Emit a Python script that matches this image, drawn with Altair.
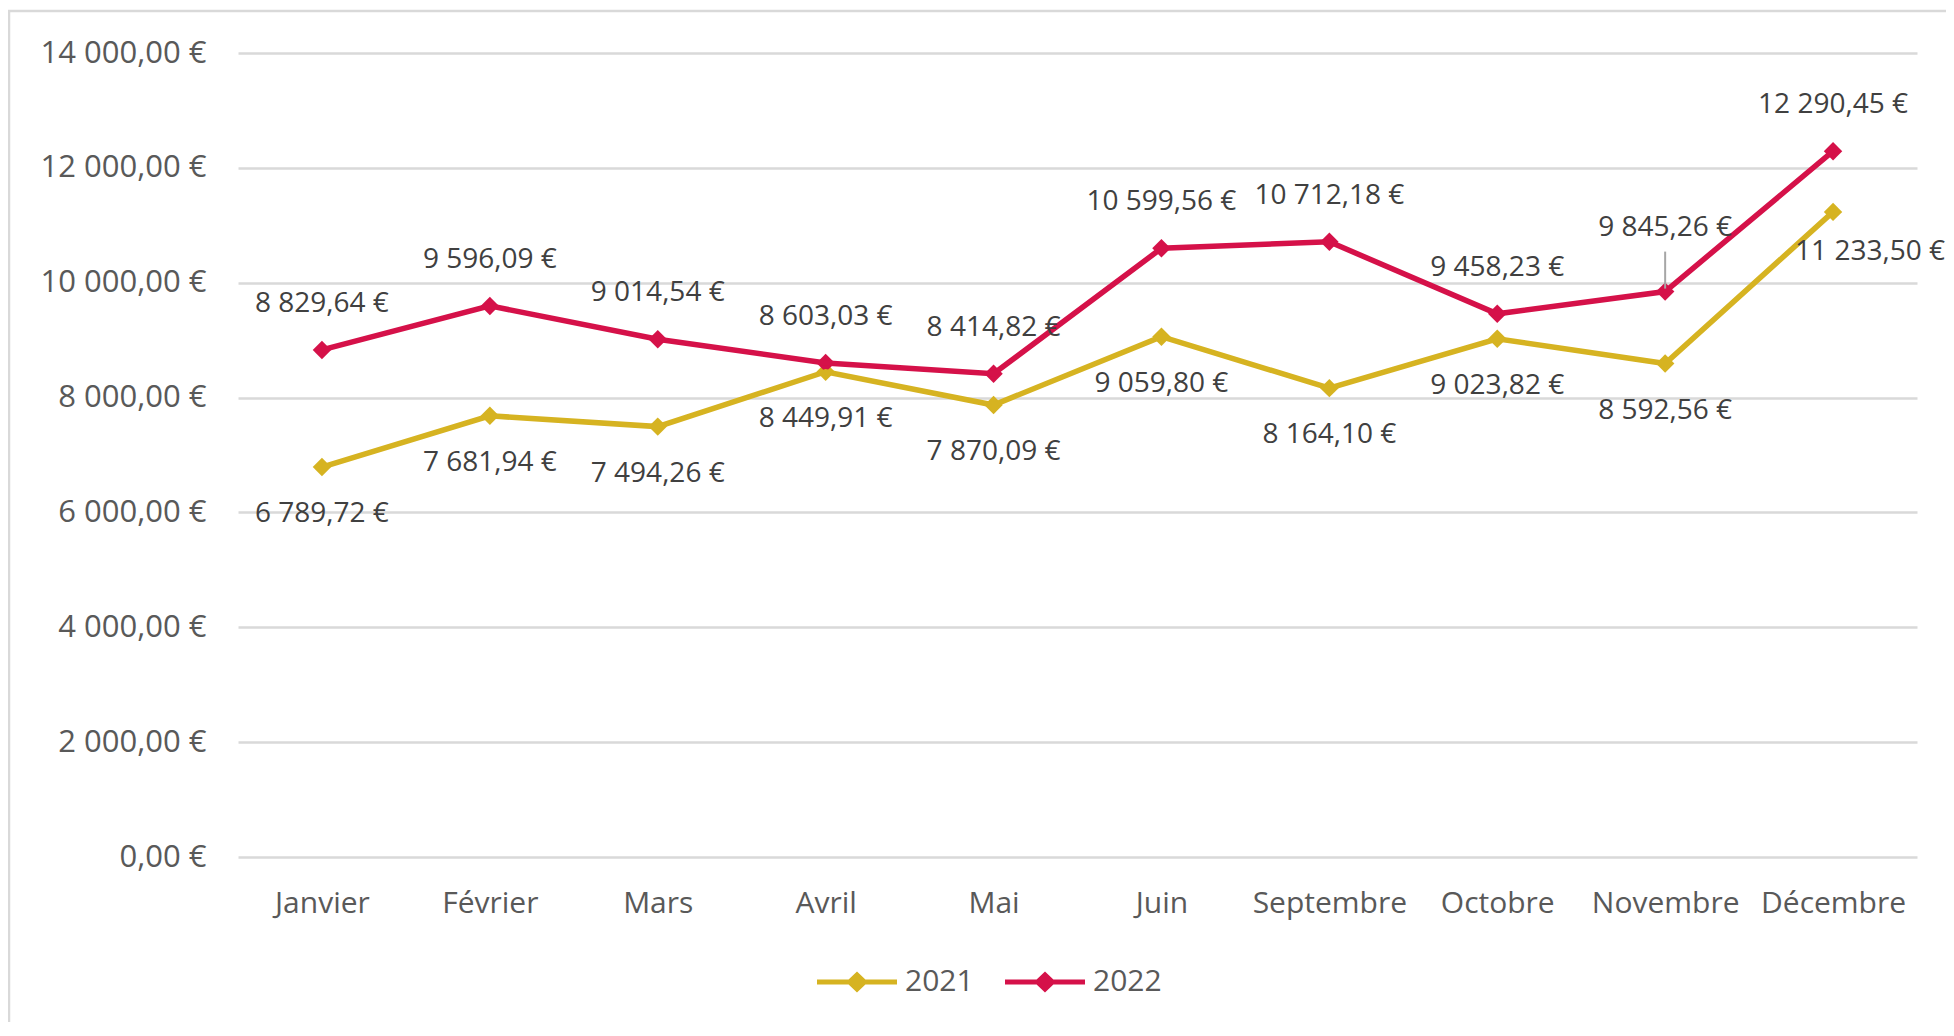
import altair as alt
import pandas as pd

months = ["Janvier", "Février", "Mars", "Avril", "Mai", "Juin",
          "Septembre", "Octobre", "Novembre", "Décembre"]
values_2021 = [6789.72, 7681.94, 7494.26, 8449.91, 7870.09, 9059.80,
               8164.10, 9023.82, 8592.56, 11233.50]
values_2022 = [8829.64, 9596.09, 9014.54, 8603.03, 8414.82, 10599.56,
               10712.18, 9458.23, 9845.26, 12290.45]
years = ["2021", "2022"]
y_ticks = [0, 2000, 4000, 6000, 8000, 10000, 12000, 14000]

colors = ["#D6B321", "#D51149"]


def fr(v):
    s = f"{v:,.2f}".replace(",", "#").replace(".", ",").replace("#", " ")
    return s + " €"


rows = []
for yr, vals in zip(years, [values_2021, values_2022]):
    for m, v in zip(months, vals):
        rows.append({"month": m, "value": v, "year": yr, "label": fr(v)})
df = pd.DataFrame(rows)

FONT = "Open Sans"

x_enc = alt.X("month:N", sort=months,
              scale=alt.Scale(type="point", padding=0.5),
              axis=alt.Axis(title=None, domain=False, ticks=False, grid=False,
                            labelFontSize=30, labelColor="#595959",
                            labelFont=FONT, labelPadding=31, labelAngle=0))
y_enc = alt.Y("value:Q",
              scale=alt.Scale(domain=[0, 14000], nice=False),
              axis=alt.Axis(title=None, domain=False, ticks=False,
                            values=y_ticks, grid=True, gridColor="#D9D9D9",
                            gridWidth=2.5, labelFontSize=31,
                            labelColor="#595959", labelFont=FONT,
                            labelPadding=32,
                            labelExpr="replace(replace(replace(format(datum.value, ',.2f'), ',', '#'), '.', ','), '#', ' ') + ' €'"))
color_scale = alt.Scale(domain=years, range=colors)

legend_path = ("M-1,-0.06L-0.21,-0.06L0,-0.26L0.21,-0.06L1,-0.06L1,0.06"
               "L0.21,0.06L0,0.26L-0.21,0.06L-1,0.06Z")
legend = alt.Legend(title=None, orient="none", direction="horizontal",
                    legendX=579, legendY=889,
                    symbolType=legend_path, symbolSize=6400,
                    symbolStrokeWidth=0, symbolFillColor="#D6B321",
                    labelFontSize=30, labelFont=FONT,
                    labelColor="#595959", labelOffset=8,
                    columnPadding=31, padding=0)
color_enc = alt.Color("year:N", scale=color_scale, legend=legend)

base = alt.Chart(df)

frame = alt.Chart(alt.Data(values=[{}])).mark_rect(
    fill=None, stroke="#D9D9D9", strokeWidth=2.5
).encode(x=alt.value(-229), x2=alt.value(1800),
         y=alt.value(-42), y2=alt.value(1000))

points = base.mark_point(shape="diamond", filled=True, size=340, opacity=1).encode(
    x=x_enc, y=y_enc, color=color_enc)

lines = base.mark_line(strokeWidth=5.5).encode(
    x=x_enc, y=y_enc, color=color_enc)

txt_kw = dict(fontSize=28, font=FONT, color="#404040", baseline="middle",
              align="center")

lab22 = base.transform_filter(
    (alt.datum.year == "2022") & (alt.datum.month != "Novembre")
).mark_text(dy=-46, **txt_kw).encode(x=x_enc, y=y_enc, text="label:N")

lab22_nov = base.transform_filter(
    (alt.datum.year == "2022") & (alt.datum.month == "Novembre")
).mark_text(dy=-64, **txt_kw).encode(x=x_enc, y=y_enc, text="label:N")

leader = base.transform_filter(
    (alt.datum.year == "2022") & (alt.datum.month == "Novembre")
).mark_rule(color="#A6A6A6", strokeWidth=2, yOffset=-40, y2Offset=-3).encode(
    x=x_enc, y=y_enc, y2="value:Q")

lab21 = base.transform_filter(
    (alt.datum.year == "2021") & (alt.datum.month != "Décembre")
).mark_text(dy=47, **txt_kw).encode(x=x_enc, y=y_enc, text="label:N")

lab21_dec = base.transform_filter(
    (alt.datum.year == "2021") & (alt.datum.month == "Décembre")
).mark_text(dx=37, dy=40, **txt_kw).encode(x=x_enc, y=y_enc, text="label:N")

chart = alt.layer(
    frame, points, lines, leader, lab22, lab22_nov, lab21, lab21_dec
).properties(
    width=1679, height=804,
    autosize=alt.AutoSizeParams(type="none"),
    padding={"left": 230, "top": 45, "right": 29, "bottom": 165},
    background="white"
).configure_view(stroke=None)

chart.save("out.html", embed_options={"renderer": "svg", "actions": False})
